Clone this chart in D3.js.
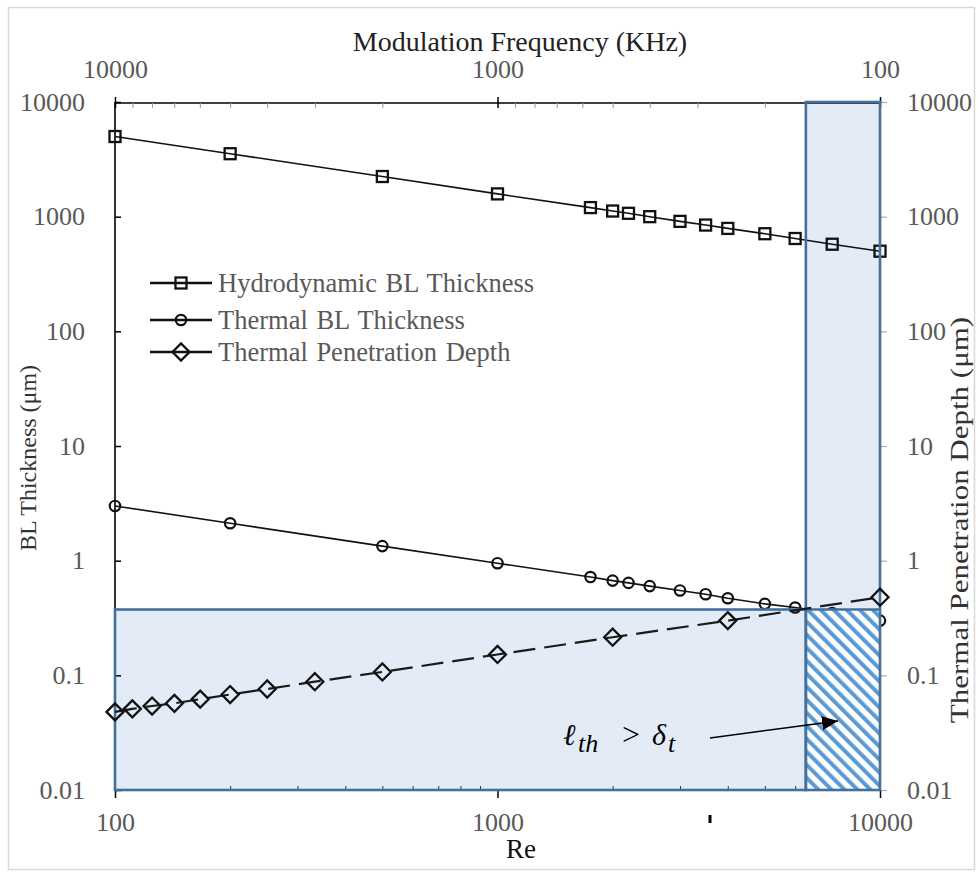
<!DOCTYPE html>
<html><head><meta charset="utf-8">
<script src="https://cdn.jsdelivr.net/npm/d3@7"></script>
<style>body{margin:0;background:#fff}</style>
</head><body>
<svg id="chart" width="979" height="872"></svg>
<script>
// ---- data ----
const hydroRe  = [100,200,500,1000,1750,2000,2200,2500,3000,3500,4000,5000,6000,7500,10000];
const hydroVal = [5000,3540,2240,1580,1200,1120,1070,1000,910,845,790,710,645,575,500];
const thermRe  = [100,200,500,1000,1750,2000,2200,2500,3000,3500,4000,5000,6000,7500,10000];
const thermVal = [3.0,2.12,1.34,0.95,0.72,0.67,0.64,0.60,0.55,0.51,0.47,0.42,0.39,0.35,0.30];
const penRe    = [100,111,125,143,167,200,250,333,500,1000,2000,4000,10000];
const penVal   = [0.048,0.051,0.054,0.057,0.062,0.068,0.076,0.088,0.107,0.152,0.215,0.30,0.48];
const reTicks   = [100,1000,10000];
const freqTicks = [10000,1000,100];
const yTicks    = [0.01,0.1,1,10,100,1000,10000];
const seriesNames = ["Hydrodynamic BL Thickness","Thermal BL Thickness","Thermal Penetration Depth"];
const regionRe  = [6400,10000];
const regionVal = [0.01,0.375,10000];

// ---- scales ----
const svg = d3.select("#chart");
const x  = d3.scaleLog().domain([100,10000]).range([115,880]);
const xf = d3.scaleLog().domain([10000,100]).range([115,880]);
const y  = d3.scaleLog().domain([0.01,10000]).range([790,102]);
const serif = "'Liberation Serif','Times New Roman',serif";
const fmt = d => d3.format("~g")(d);

// frame
svg.append("rect").attr("x",8.5).attr("y",7.5).attr("width",966).attr("height",862)
  .attr("fill","none").attr("stroke","#d9d9d9").attr("stroke-width",1.5);

// hatch pattern
const defs = svg.append("defs");
const pat = defs.append("pattern").attr("id","hatch").attr("patternUnits","userSpaceOnUse")
  .attr("width",9.2).attr("height",9.2).attr("patternTransform","rotate(-45)");
pat.append("rect").attr("width",9.2).attr("height",9.2).attr("fill","#ffffff");
pat.append("rect").attr("width",4).attr("height",9.2).attr("fill","#5b9bd5");
defs.append("marker").attr("id","arr").attr("viewBox","0 0 16 14").attr("refX",16).attr("refY",7)
  .attr("markerWidth",16).attr("markerHeight",14).attr("markerUnits","userSpaceOnUse").attr("orient","auto")
  .append("path").attr("d","M0,0L16,7L0,14z").attr("fill","#000");

const fillBlue = "#e3ecf6", edgeBlue = "#41719c";
// light regions
svg.append("rect").attr("x",x(100)).attr("y",y(regionVal[1])).attr("width",x(regionRe[0])-x(100))
  .attr("height",y(regionVal[0])-y(regionVal[1])).attr("fill",fillBlue);
svg.append("rect").attr("x",x(regionRe[0])).attr("y",y(regionVal[2])).attr("width",x(regionRe[1])-x(regionRe[0]))
  .attr("height",y(regionVal[0])-y(regionVal[2])).attr("fill",fillBlue);

// ---- axes ----
const axisCol = "#000", labCol = "#595959";
const gL = svg.append("g").attr("transform","translate(115,0)")
  .call(d3.axisLeft(y).tickValues(yTicks).tickFormat(fmt).tickSize(-6).tickPadding(30));
const gR = svg.append("g").attr("transform","translate(880,0)")
  .call(d3.axisRight(y).tickValues(yTicks).tickFormat(fmt).tickSize(7).tickPadding(20));
const gB = svg.append("g").attr("transform","translate(0,790)")
  .call(d3.axisBottom(x).tickValues(reTicks).tickFormat(fmt).tickSize(8).tickPadding(15));
const minorRe = x.ticks().filter(v => !reTicks.includes(v));
svg.append("g").attr("transform","translate(0,790)")
  .call(d3.axisBottom(x).tickValues(minorRe).tickFormat("").tickSize(-4))
  .call(g => g.select(".domain").remove())
  .selectAll("line").attr("stroke","#333");
const gT = svg.append("g").attr("transform","translate(0,103)")
  .call(d3.axisTop(xf).tickValues(freqTicks).tickFormat(fmt).tickSize(6).tickPadding(19));
const minorF = xf.ticks().filter(v => !freqTicks.includes(v));
svg.append("g").attr("transform","translate(0,103)")
  .call(d3.axisTop(xf).tickValues(minorF).tickFormat("").tickSize(-5))
  .call(g => g.select(".domain").remove())
  .selectAll("line").attr("stroke","#999");
gT.selectAll(".tick line").attr("y2",-6).attr("y1",5);

[gL,gB,gT].forEach(g => {
  g.select(".domain").attr("stroke",axisCol).attr("stroke-width",1.6);
  g.selectAll(".tick line").attr("stroke",axisCol).attr("stroke-width",1.5);
});
gR.select(".domain").attr("stroke","none");
gR.selectAll(".tick line").attr("stroke","#aaa").attr("stroke-width",1.2);
[gL,gR,gB,gT].forEach(g => g.selectAll("text").attr("font-family",serif).attr("font-size",26).attr("fill",labCol));
gB.selectAll(".domain").attr("d","M115,0H880");
gT.selectAll(".domain").attr("d","M115,0H880");
gL.selectAll(".domain").attr("d","M0,102V790");

// ---- series ----
const ink = "#111";
const line = d3.line().x(d => x(d[0])).y(d => y(d[1]));
const hydro = hydroRe.map((r,i) => [r,hydroVal[i]]);
const therm = thermRe.map((r,i) => [r,thermVal[i]]);
const pen   = penRe.map((r,i) => [r,penVal[i]]);

function sq(g, cx, cy){ g.append("rect").attr("x",cx-5.5).attr("y",cy-5.5).attr("width",11).attr("height",11)
  .attr("fill","none").attr("stroke",ink).attr("stroke-width",2.3); }
function ci(g, cx, cy){ g.append("circle").attr("cx",cx).attr("cy",cy).attr("r",5.2)
  .attr("fill","none").attr("stroke",ink).attr("stroke-width",2.2); }
function di(g, cx, cy){ g.append("path").attr("d",`M${cx-8.5},${cy}L${cx},${cy-8.5}L${cx+8.5},${cy}L${cx},${cy+8.5}Z`)
  .attr("fill","none").attr("stroke",ink).attr("stroke-width",2.3); }

const gH = svg.append("g");
gH.append("path").attr("d",line(hydro)).attr("fill","none").attr("stroke",ink).attr("stroke-width",1.6);
hydro.forEach(d => sq(gH, x(d[0]), y(d[1])));
const gTh = svg.append("g");
gTh.append("path").attr("d",line(therm)).attr("fill","none").attr("stroke",ink).attr("stroke-width",1.6);
therm.forEach(d => ci(gTh, x(d[0]), y(d[1])));

// hatched region (on top of thermal curve)
svg.append("rect").attr("x",x(regionRe[0])).attr("y",y(regionVal[1])).attr("width",x(regionRe[1])-x(regionRe[0]))
  .attr("height",y(regionVal[0])-y(regionVal[1])).attr("fill","url(#hatch)");

// region borders
svg.append("rect").attr("x",x(100)).attr("y",y(regionVal[1])).attr("width",x(regionRe[0])-x(100))
  .attr("height",y(regionVal[0])-y(regionVal[1])).attr("fill","none").attr("stroke",edgeBlue).attr("stroke-width",2.6);
svg.append("rect").attr("x",x(regionRe[0])).attr("y",y(regionVal[2])).attr("width",x(regionRe[1])-x(regionRe[0]))
  .attr("height",y(regionVal[0])-y(regionVal[2])).attr("fill","none").attr("stroke",edgeBlue).attr("stroke-width",2.6);
svg.append("line").attr("x1",x(regionRe[0])).attr("x2",x(regionRe[1])).attr("y1",y(regionVal[1])).attr("y2",y(regionVal[1]))
  .attr("stroke",edgeBlue).attr("stroke-width",2.6);

const gP = svg.append("g");
gP.append("path").attr("d",line(pen)).attr("fill","none").attr("stroke","#1a1a1a").attr("stroke-width",2.2)
  .attr("stroke-dasharray","22,9");
pen.forEach(d => di(gP, x(d[0]), y(d[1])));

// ---- legend ----
const legY = [283,320,352];
const markers = [sq,ci,di];
seriesNames.forEach((n,i) => {
  const g = svg.append("g");
  g.append("line").attr("x1",150).attr("x2",212).attr("y1",legY[i]).attr("y2",legY[i])
    .attr("stroke",ink).attr("stroke-width",2.4);
  markers[i](g, 181, legY[i]);
  g.append("text").attr("x",218).attr("y",legY[i]).attr("dy","0.33em").attr("font-family",serif)
    .attr("font-size",26.5).attr("fill",labCol).attr("word-spacing",2).text(n);
});

// ---- titles ----
svg.append("text").attr("x",520).attr("y",51).attr("text-anchor","middle").attr("font-family",serif)
  .attr("font-size",28).attr("fill","#222").text("Modulation Frequency (KHz)");
svg.append("text").attr("x",521).attr("y",858).attr("text-anchor","middle").attr("font-family",serif)
  .attr("font-size",27).attr("fill","#111").text("Re");
svg.append("text").attr("transform","translate(36,458) rotate(-90)").attr("text-anchor","middle")
  .attr("font-family",serif).attr("font-size",24).attr("fill","#333").text("BL Thickness (μm)");
svg.append("text").attr("transform","translate(968,520) rotate(-90) scale(1,0.78)").attr("text-anchor","middle")
  .attr("font-family",serif).attr("font-size",31).attr("fill","#333").text("Thermal Penetration Depth (μm)");

// ---- annotation ----
const ann = svg.append("text").attr("y",745).attr("font-family",serif)
  .attr("font-style","italic").attr("font-size",30).attr("fill","#000");
ann.append("tspan").attr("x",563).text("ℓ");
ann.append("tspan").attr("x",578).attr("dy",7).attr("font-size",26).text("th");
ann.append("tspan").attr("x",622).attr("dy",-7).attr("font-style","normal").attr("font-size",32).text(">");
ann.append("tspan").attr("x",652).text("δ");
ann.append("tspan").attr("x",668).attr("dy",7).attr("font-size",26).text("t");
svg.append("line").attr("x1",710).attr("y1",738).attr("x2",838).attr("y2",721)
  .attr("stroke","#000").attr("stroke-width",1.5).attr("marker-end","url(#arr)");
svg.append("line").attr("x1",710).attr("x2",710).attr("y1",815).attr("y2",823)
  .attr("stroke","#000").attr("stroke-width",3);
</script>
</body></html>
